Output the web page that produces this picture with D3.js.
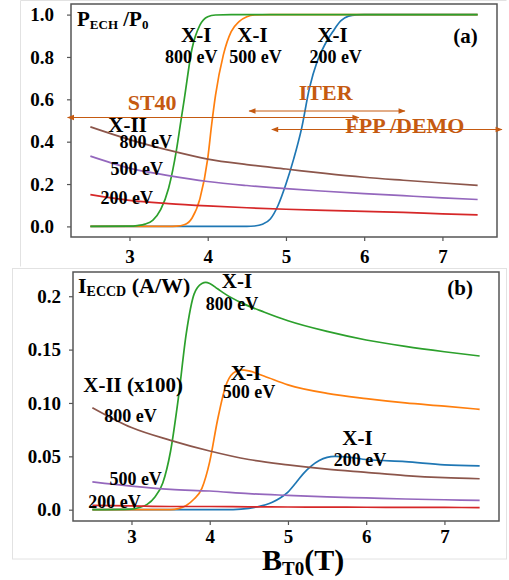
<!DOCTYPE html>
<html>
<head>
<meta charset="utf-8">
<script src="https://cdn.jsdelivr.net/npm/d3@7"></script>
<style>
  body { margin: 0; background: #fff; }
  text { font-family: "Liberation Serif", "Times New Roman", serif; font-weight: bold; }
</style>
</head>
<body>
<div id="chart"></div>
<script>
// ---- data ----
const bGrid = [2.5, 3.0, 3.5, 4.0, 4.5, 5.0, 5.5, 6.0, 6.5, 7.0, 7.45];

// panel (a): P_ECH / P_0
const xi800aB = [2.5, 3.0, 3.1, 3.2, 3.3, 3.4, 3.5, 3.6, 3.65, 3.7, 3.8, 3.9, 4.0, 4.1, 4.3, 5.0, 6.0, 7.0, 7.45];
const xi800aV = [0, 0.001, 0.004, 0.011, 0.03, 0.08, 0.18, 0.36, 0.48, 0.6, 0.84, 0.95, 0.99, 0.998, 1, 1, 1, 1, 1];
const xi500aB = [2.5, 3.5, 3.6, 3.7, 3.8, 3.9, 4.0, 4.05, 4.1, 4.2, 4.3, 4.4, 4.5, 4.6, 4.8, 5.5, 6.5, 7.45];
const xi500aV = [0, 0, 0.001, 0.008, 0.04, 0.13, 0.32, 0.48, 0.62, 0.81, 0.92, 0.967, 0.99, 0.998, 1, 1, 1, 1];
const xi200aB = [2.5, 4.0, 4.5, 4.6, 4.7, 4.8, 4.9, 5.0, 5.1, 5.2, 5.3, 5.4, 5.5, 5.6, 5.7, 5.8, 5.9, 6.0, 6.5, 7.45];
const xi200aV = [0, 0, 0.0005, 0.002, 0.01, 0.035, 0.1, 0.2, 0.32, 0.463, 0.653, 0.78, 0.86, 0.92, 0.97, 0.993, 0.999, 1, 1, 1];
const xii800aV = [0.47, 0.41, 0.36, 0.318, 0.292, 0.271, 0.25, 0.232, 0.218, 0.205, 0.194];
const xii500aV = [0.332, 0.275, 0.24, 0.212, 0.193, 0.178, 0.166, 0.155, 0.145, 0.135, 0.127];
const xii200aV = [0.150, 0.123, 0.108, 0.097, 0.088, 0.081, 0.076, 0.071, 0.066, 0.059, 0.054];

// panel (b): I_ECCD (A/W)
const xi800bB = [2.5, 3.0, 3.1, 3.2, 3.3, 3.4, 3.5, 3.6, 3.7, 3.8, 3.9, 3.95, 4.0, 4.1, 4.2, 4.4, 4.7, 5.0, 5.5, 6.0, 6.5, 7.0, 7.45];
const xi800bV = [0, 0.0005, 0.002, 0.005, 0.012, 0.025, 0.055, 0.105, 0.165, 0.202, 0.212, 0.213, 0.212, 0.207, 0.202, 0.194, 0.185, 0.177, 0.167, 0.159, 0.153, 0.148, 0.144];
const xi500bB = [2.5, 3.5, 3.6, 3.7, 3.8, 3.9, 4.0, 4.1, 4.2, 4.3, 4.4, 4.5, 4.7, 5.0, 5.5, 6.0, 6.5, 7.0, 7.45];
const xi500bV = [0, 0, 0.001, 0.004, 0.01, 0.02, 0.045, 0.084, 0.115, 0.128, 0.131, 0.130, 0.125, 0.117, 0.109, 0.104, 0.100, 0.097, 0.094];
const xi200bB = [2.5, 4.2, 4.4, 4.6, 4.8, 4.9, 5.0, 5.1, 5.2, 5.3, 5.4, 5.5, 5.6, 5.8, 6.0, 6.5, 7.0, 7.45];
const xi200bV = [0, 0, 0.0005, 0.0025, 0.007, 0.011, 0.0165, 0.025, 0.034, 0.041, 0.046, 0.049, 0.050, 0.049, 0.047, 0.045, 0.042, 0.041];
const xii800bV = [0.0956, 0.077, 0.065, 0.055, 0.047, 0.042, 0.038, 0.035, 0.032, 0.030, 0.029];
const xii500bV = [0.026, 0.022, 0.019, 0.0175, 0.015, 0.0134, 0.012, 0.011, 0.010, 0.0093, 0.0087];
const xii200bV = [0.004, 0.0035, 0.003, 0.003, 0.0027, 0.0025, 0.0024, 0.0023, 0.0022, 0.0021, 0.002];

// device B_T0 ranges (panel a)
const devices = ["ST40", "ITER", "FPP /DEMO"];
const deviceFrom = [2.21, 4.53, 4.82];
const deviceTo = [5.93, 6.52, 7.76];
const deviceLevel = [0.514, 0.545, 0.4575];

const xTicks = [3, 4, 5, 6, 7];
const yTicksA = [0, 0.2, 0.4, 0.6, 0.8, 1.0];
const yTicksB = [0, 0.05, 0.10, 0.15, 0.2];
const yTickLabelsB = ["0.0", "0.05", "0.10", "0.15", "0.2"];

const colors = {
  blue: "#1f77b4", orange: "#ff7f0e", green: "#2ca02c",
  red: "#d62728", purple: "#9467bd", brown: "#8c564b"
};
const annoColor = "#c55a11";

const svg = d3.select("#chart").append("svg")
  .attr("width", 509)
  .attr("height", 580);

svg.append("rect").attr("width", 509).attr("height", 580).attr("fill", "#fff");

// faint card edges of the two pasted panels
svg.append("path")
  .attr("d", "M20.5,266.5V0.5H506.5")
  .attr("fill", "none").attr("stroke", "#e2e2e2");
svg.append("rect")
  .attr("x", 12.5).attr("y", 268.5).attr("width", 494).attr("height", 290.5)
  .attr("fill", "none").attr("stroke", "#e2e2e2");

const zipPts = (bs, vs) => bs.map((b, i) => [b, vs[i]]);

function panel(cfg) {
  const x = d3.scaleLinear().domain([2.2525, 7.6975]).range([cfg.left, cfg.right]);
  const y = d3.scaleLinear().domain(cfg.yDomain).range([cfg.bottom, cfg.top]);
  const g = svg.append("g");

  const line = d3.line()
    .x(d => x(d[0]))
    .y(d => y(d[1]))
    .curve(d3.curveMonotoneX);

  cfg.series.forEach(s => {
    g.append("path")
      .datum(zipPts(s.b, s.v))
      .attr("fill", "none")
      .attr("stroke", s.color)
      .attr("stroke-width", 1.7)
      .attr("d", line);
  });

  // axes
  const xAxis = g.append("g")
    .attr("transform", `translate(0,${cfg.bottom})`)
    .call(d3.axisBottom(x).tickValues(xTicks).tickSize(4).tickPadding(cfg.xPad).tickFormat(d3.format("d")));
  const yAxis = g.append("g")
    .attr("transform", `translate(${cfg.left},0)`)
    .call(d3.axisLeft(y).tickValues(cfg.yTicks).tickSize(4).tickPadding(cfg.yPad)
      .tickFormat((d, i) => cfg.yLabels[i]));
  [xAxis, yAxis].forEach(a => {
    a.select(".domain").remove();
    a.selectAll("line").attr("stroke", "#555").attr("stroke-width", 1.2);
    a.selectAll("text")
      .attr("fill", "#000")
      .style("font-family", '"Liberation Serif", "Times New Roman", serif')
      .style("font-weight", "bold")
      .style("font-size", "19px");
  });

  g.append("rect")
    .attr("x", cfg.left).attr("y", cfg.top)
    .attr("width", cfg.right - cfg.left).attr("height", cfg.bottom - cfg.top)
    .attr("fill", "none").attr("stroke", "#555").attr("stroke-width", 1.5);

  cfg.labels.forEach(l => {
    g.append("text")
      .attr("x", x(l.b)).attr("y", y(l.v))
      .attr("text-anchor", "middle")
      .attr("font-size", l.size)
      .attr("fill", l.color || "#000")
      .text(l.t);
  });

  return { g, x, y };
}

const a = panel({
  left: 71, right: 497, top: 4, bottom: 237,
  yDomain: [-0.05, 1.05], yTicks: yTicksA, yLabels: yTicksA.map(d3.format(".1f")),
  xPad: 9, yPad: 13,
  series: [
    { b: xi200aB, v: xi200aV, color: colors.blue },
    { b: xi500aB, v: xi500aV, color: colors.orange },
    { b: xi800aB, v: xi800aV, color: colors.green },
    { b: bGrid, v: xii200aV, color: colors.red },
    { b: bGrid, v: xii500aV, color: colors.purple },
    { b: bGrid, v: xii800aV, color: colors.brown }
  ],
  labels: [
    { t: "X-I", b: 3.854, v: 0.869, size: 21 },
    { t: "800 eV", b: 3.79, v: 0.77, size: 18 },
    { t: "X-I", b: 4.571, v: 0.869, size: 21 },
    { t: "500 eV", b: 4.61, v: 0.77, size: 18 },
    { t: "X-I", b: 5.596, v: 0.869, size: 21 },
    { t: "200 eV", b: 5.635, v: 0.77, size: 18 },
    { t: "(a)", b: 7.294, v: 0.866, size: 21 },
    { t: "X-II", b: 2.976, v: 0.446, size: 21 },
    { t: "800 eV", b: 3.207, v: 0.37, size: 18 },
    { t: "500 eV", b: 3.092, v: 0.243, size: 18 },
    { t: "200 eV", b: 2.964, v: 0.106, size: 18 },
    { t: "ST40", b: 3.29, v: 0.55, size: 22, color: annoColor },
    { t: "ITER", b: 5.507, v: 0.597, size: 22, color: annoColor },
    { t: "FPP /DEMO", b: 6.52, v: 0.441, size: 22, color: annoColor }
  ]
});

// device range arrows
const defs = svg.append("defs");
["end", "start"].forEach(k => {
  defs.append("marker")
    .attr("id", "arr-" + k)
    .attr("viewBox", "0 0 10 10")
    .attr("refX", k === "end" ? 9 : 1).attr("refY", 5)
    .attr("markerWidth", 9).attr("markerHeight", 7)
    .attr("markerUnits", "userSpaceOnUse")
    .attr("orient", "auto")
    .append("path")
    .attr("d", k === "end" ? "M0,1L10,5L0,9Z" : "M10,1L0,5L10,9Z")
    .attr("fill", annoColor);
});
devices.forEach((d, i) => {
  a.g.append("line")
    .attr("x1", a.x(deviceFrom[i])).attr("x2", a.x(deviceTo[i]))
    .attr("y1", a.y(deviceLevel[i])).attr("y2", a.y(deviceLevel[i]))
    .attr("stroke", annoColor).attr("stroke-width", 1.1)
    .attr("marker-start", "url(#arr-start)")
    .attr("marker-end", "url(#arr-end)");
});
// keep FPP /DEMO text above its arrow
a.g.selectAll("text").filter(function () { return d3.select(this).text() === "FPP /DEMO"; }).raise();

// panel (a) title
const ta = a.g.append("text").attr("x", 77).attr("y", 26).attr("font-size", 21);
ta.append("tspan").text("P");
ta.append("tspan").attr("font-size", 13).attr("dy", 3).text("ECH");
ta.append("tspan").attr("dy", -3).text(" /P");
ta.append("tspan").attr("font-size", 13).attr("dy", 3).text("0");

const b = panel({
  left: 73, right: 499, top: 272, bottom: 521,
  yDomain: [-0.0106, 0.2227], yTicks: yTicksB, yLabels: yTickLabelsB,
  xPad: 5, yPad: 8,
  series: [
    { b: xi200bB, v: xi200bV, color: colors.blue },
    { b: xi500bB, v: xi500bV, color: colors.orange },
    { b: xi800bB, v: xi800bV, color: colors.green },
    { b: bGrid, v: xii200bV, color: colors.red },
    { b: bGrid, v: xii500bV, color: colors.purple },
    { b: bGrid, v: xii800bV, color: colors.brown }
  ],
  labels: [
    { t: "X-I", b: 4.349, v: 0.2077, size: 21 },
    { t: "800 eV", b: 4.285, v: 0.187, size: 18 },
    { t: "X-I", b: 4.464, v: 0.1215, size: 21 },
    { t: "500 eV", b: 4.502, v: 0.1046, size: 18 },
    { t: "X-I", b: 5.889, v: 0.0606, size: 21 },
    { t: "200 eV", b: 5.92, v: 0.0409, size: 18 },
    { t: "(b)", b: 7.2, v: 0.2011, size: 21 },
    { t: "X-II (x100)", b: 3.021, v: 0.1103, size: 21 },
    { t: "800 eV", b: 2.989, v: 0.0822, size: 18 },
    { t: "500 eV", b: 3.053, v: 0.0231, size: 18 },
    { t: "200 eV", b: 2.784, v: 0.0016, size: 18 }
  ]
});

// panel (b) title
const tb = b.g.append("text").attr("x", 78).attr("y", 293).attr("font-size", 22);
tb.append("tspan").text("I");
tb.append("tspan").attr("font-size", 14).attr("dy", 3).text("ECCD");
tb.append("tspan").attr("dy", -3).text(" (A/W)");

// shared x label
const xl = svg.append("text").attr("x", 262).attr("y", 570).attr("font-size", 30);
xl.append("tspan").text("B");
xl.append("tspan").attr("font-size", 19).attr("dy", 5).text("T0");
xl.append("tspan").attr("dy", -5).text("(T)");
</script>
</body>
</html>
